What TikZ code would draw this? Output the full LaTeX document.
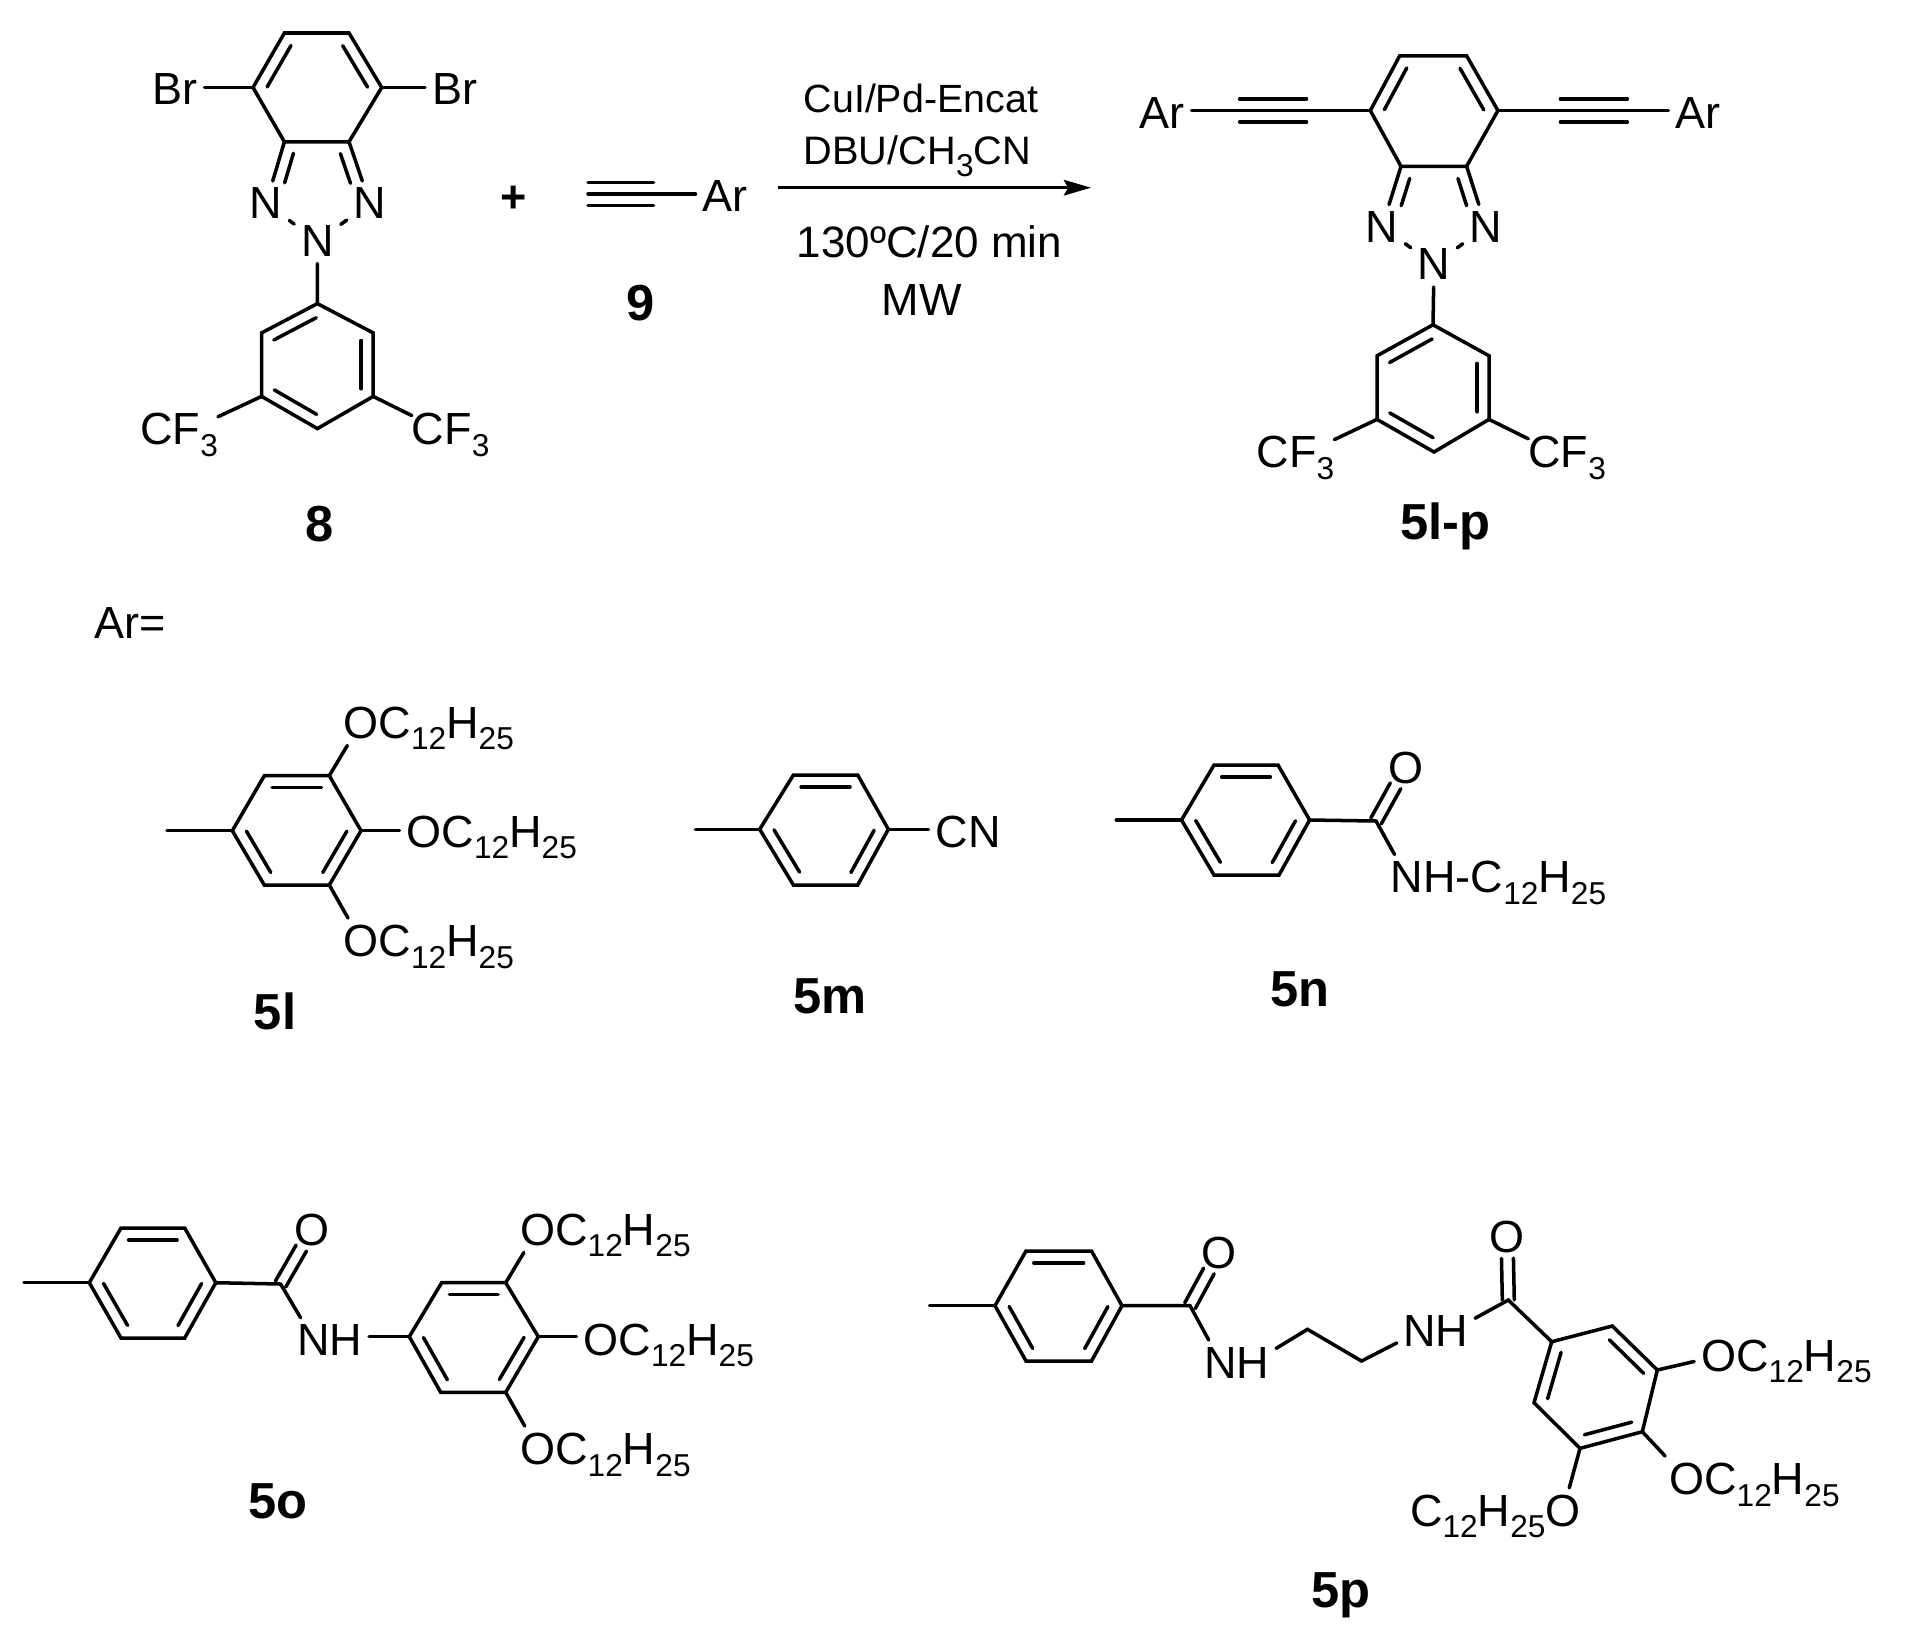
\documentclass[tikz,border=0pt]{standalone}
\usepackage{fontspec}
\setmainfont{Liberation Sans}
\usetikzlibrary{arrows.meta,positioning,calc}
\newcommand{\atomfont}{\fontsize{12.8}{14}\selectfont}
\newcommand{\chemsub}[1]{\raisebox{-3.3pt}{\fontsize{9}{10}\selectfont #1}}
\newcommand{\alkyl}{C\chemsub{12}H\chemsub{25}}
\newcommand{\cfthree}{CF\chemsub{3}}
\newcommand{\dbgap}{3.4pt}
% inner line of a double bond, a to b walked clockwise
\newcommand{\dblfr}[4]{\draw [bond] ($(#1)!#3!(#2)!\dbgap!-90:(#2)$) -- ($(#2)!#4!(#1)!\dbgap!90:(#1)$);}
\newcommand{\dbin}[2]{\dblfr{#1}{#2}{.12}{.12}}
% C=O, two lines round the axis
\newcommand{\dsym}[2]{
  \draw [bond] ($(#1)!1.7pt!90:(#2)$)  -- ($(#1)!.66!(#2)!1.7pt!90:(#2)$);
  \draw [bond] ($(#1)!1.7pt!-90:(#2)$) -- ($(#1)!.66!(#2)!1.7pt!-90:(#2)$);}
% triple bond without its axis
\newcommand{\tside}[2]{
  \draw [bond] ($(#1)!3.3pt!90:(#2)$)  -- ($(#2)!3.3pt!-90:(#1)$);
  \draw [bond] ($(#1)!3.3pt!-90:(#2)$) -- ($(#2)!3.3pt!90:(#1)$);}
\tikzset{
bond/.style = {line width=1pt, line cap=round},
tmp/.style = {coordinate},
atom/.style = {font=\atomfont, inner sep=2pt, outer sep=0pt},
atomtail/.style = {font=\atomfont, inner sep=0pt, outer sep=0pt, base right=-2pt of #1},
atomhead/.style = {font=\atomfont, inner sep=0pt, outer sep=0pt, base left=-2pt of #1},
atomnext/.style = {atom, base right=-4.2pt of #1},
cfgroup/.style = {font=\atomfont, inner sep=0pt, outer sep=0pt, anchor=base west},
cpd/.style = {font=\fontsize{14.4}{16}\selectfont\bfseries, inner sep=0pt, anchor=base},
txt/.style = {inner sep=0pt, anchor=base west}
}
\begin{document}
\begin{tikzpicture}[x=0.01cm, y=-0.01cm, >={Stealth[length=7.7pt,width=4.4pt,inset=1.2pt]}]
  \useasboundingbox (0,0) rectangle (1916,1633);

  % compound 8
  \foreach \n/\x/\y in {a/284.4/33, b/349/33, c/381.7/87.5, d/349/141.8, e/284.4/141.8, f/253/87.5,
      g/317.4/303.6, h/373.2/332.9, i/373.2/396.4, j/317.4/428.6, k/261.6/396.4, l/261.6/332.9}
    \node [tmp] (m8\n) at (\x,\y) {};
  \node [atom]                      (brl)   at (175,89.3)    {Br};
  \node [atom]                      (brr)   at (454.5,89.3)  {Br};
  \node [atom]                      (n8l)   at (266,203.5)   {N};
  \node [atom]                      (n8r)   at (370,203.5)   {N};
  \node [atom]                      (n8c)   at (317.5,241)   {N};
  \node [cfgroup]                   (cf8l)  at (140.4,444.6) {\cfthree};
  \node [cfgroup]                   (cf8r)  at (411.8,444.6) {\cfthree};
  \node [cpd]                       (lab8)  at (319.5,541)   {8};

  \draw [bond] (m8a) -- (m8b) -- (m8c) -- (m8d) -- (m8e) -- (m8f) -- cycle;
  \dbin{m8f}{m8a} \dbin{m8b}{m8c}
  \draw [bond] (m8f) -- (m8f -| brl.east);
  \draw [bond] (m8c) -- (m8c -| brr.west);
  \draw [bond] (m8d) -- (n8r);
  \draw [bond] (m8e) -- (n8l);
  \dblfr{m8d}{n8r}{.13}{.39} \dblfr{n8l}{m8e}{.39}{.13}
  \draw [bond] (n8l) -- (n8c);
  \draw [bond] (n8r) -- (n8c);
  \draw [bond] (n8c) -- (m8g);
  \draw [bond] (m8g) -- (m8h) -- (m8i) -- (m8j) -- (m8k) -- (m8l) -- cycle;
  \dbin{m8l}{m8g} \dbin{m8h}{m8i} \dbin{m8j}{m8k}
  \draw [bond] (m8k) -- (cf8l);
  \draw [bond] (m8i) -- (cf8r);

  % plus and alkyne 9
  \node [atom, font=\atomfont\bfseries] (plus) at (514,199)  {+};
  \node [tmp]                       (t9a)   at (588,194)     {};
  \node [tmp]                       (t9b)   at (653.6,194)   {};
  \node [atom]                      (ar9)   at (725,196)     {Ar};
  \node [cpd]                       (lab9)  at (641,320)     {9};
  \draw [bond] (t9a) -- (t9b) -- (t9b -| ar9.west);
  \tside{t9a}{t9b}

  % conditions
  \node [tmp]                       (arwa)  at (778,187.7)   {};
  \node [tmp]                       (arwb)  at (1091,187.7)  {};
  \draw [->, line width=.9pt] (arwa) -- (arwb);
  \node [txt, font=\fontsize{11.2}{13}\selectfont]  (cond1) at (803,112.3) {CuI/Pd-Encat};
  \node [txt, font=\fontsize{11.3}{13}\selectfont]  (cond2) at (803,164.6) {DBU/CH\chemsub{3}CN};
  \node [txt, font=\fontsize{12.5}{14}\selectfont]  (cond3) at (796,257)   {130ºC/20 min};
  \node [txt, font=\atomfont]                       (cond4) at (881,315.5) {MW};

  % product 5l-p
  \foreach \n/\x/\y in {a/1399.7/55.8, b/1466.6/55.8, c/1497.9/110.6, d/1466.6/166.3, e/1401/166.3, f/1370.3/110.6,
      g/1433/324.8, h/1489/355.8, i/1489/419.4, j/1434/452, k/1377/419.4, l/1377/355.8,
      s/1239.6/110.6, t/1306.5/110.6, u/1560.4/110.6, v/1627.3/110.6}
    \node [tmp] (mp\n) at (\x,\y) {};
  \node [atom]                      (arl)   at (1162,113.5)  {Ar};
  \node [atom]                      (arr)   at (1698,113.5)  {Ar};
  \node [atom]                      (npl)   at (1382,227)    {N};
  \node [atom]                      (npr)   at (1486,227)    {N};
  \node [atom]                      (npc)   at (1434,264.5)  {N};
  \node [cfgroup]                   (cfpl)  at (1256.7,467.7) {\cfthree};
  \node [cfgroup]                   (cfpr)  at (1528.3,467.7) {\cfthree};
  \node [cpd]                       (labp)  at (1445,539)    {5l-p};

  \draw [bond] (mpa) -- (mpb) -- (mpc) -- (mpd) -- (mpe) -- (mpf) -- cycle;
  \dbin{mpf}{mpa} \dbin{mpb}{mpc}
  \draw [bond] (mpf) -- (mpf -| arl.east);
  \draw [bond] (mpc) -- (mpc -| arr.west);
  \tside{mps}{mpt} \tside{mpu}{mpv}
  \draw [bond] (mpd) -- (npr);
  \draw [bond] (mpe) -- (npl);
  \dblfr{mpd}{npr}{.14}{.41} \dblfr{npl}{mpe}{.41}{.14}
  \draw [bond] (npl) -- (npc);
  \draw [bond] (npr) -- (npc);
  \draw [bond] (npc) -- (mpg);
  \draw [bond] (mpg) -- (mph) -- (mpi) -- (mpj) -- (mpk) -- (mpl) -- cycle;
  \dbin{mpl}{mpg} \dbin{mph}{mpi} \dbin{mpj}{mpk}
  \draw [bond] (mpk) -- (cfpl);
  \draw [bond] (mpi) -- (cfpr);

  \node [txt, font=\atomfont]       (arlab) at (94,638)      {Ar=};

  % 5l
  \foreach \n/\x/\y in {a/264.3/775.7, b/329.3/775.7, c/361/830.7, d/329.3/885, e/264.3/885, f/232.3/830.7, m/167/830.7}
    \node [tmp] (l5\n) at (\x,\y) {};
  \node [atom]                      (ol1)   at (361,722.5)   {O};
  \node [atomtail=ol1]              (rl1)                    {\alkyl};
  \node [atom]                      (ol2)   at (424,831.7)   {O};
  \node [atomtail=ol2]              (rl2)                    {\alkyl};
  \node [atom]                      (ol3)   at (361,941)     {O};
  \node [atomtail=ol3]              (rl3)                    {\alkyl};
  \node [cpd]                       (labl)  at (275,1029.3)  {5l};

  \draw [bond] (l5a) -- (l5b) -- (l5c) -- (l5d) -- (l5e) -- (l5f) -- cycle;
  \dbin{l5a}{l5b} \dbin{l5c}{l5d} \dbin{l5e}{l5f}
  \draw [bond] (l5m) -- (l5f);
  \draw [bond] (l5b) -- (ol1);
  \draw [bond] (l5c) -- (l5c -| ol2.west);
  \draw [bond] (l5d) -- (ol3);

  % 5m
  \foreach \n/\x/\y in {a/793.4/775, b/857.7/775, c/888.3/829.3, d/857.7/885, e/793.4/885, f/759.7/829.3, m/695.4/829.3}
    \node [tmp] (m5\n) at (\x,\y) {};
  \node [atom]                      (cnm)   at (968,832)     {CN};
  \node [cpd]                       (labm)  at (830,1013)    {5m};

  \draw [bond] (m5a) -- (m5b) -- (m5c) -- (m5d) -- (m5e) -- (m5f) -- cycle;
  \dbin{m5a}{m5b} \dbin{m5c}{m5d} \dbin{m5e}{m5f}
  \draw [bond] (m5m) -- (m5f);
  \draw [bond] (m5c) -- (m5c -| cnm.west);

  % 5n
  \foreach \n/\x/\y in {a/1214/765, b/1278/765, c/1309.6/820, d/1279/875, e/1214/875, f/1181.5/820, m/1116.3/820, k/1376/821}
    \node [tmp] (n5\n) at (\x,\y) {};
  \node [atom]                      (on)    at (1405.6,767.7) {O};
  \node [atom]                      (nn)    at (1407,877)    {N};
  \node [atomtail=nn]               (rn)                     {H-\alkyl};
  \node [cpd]                       (labn)  at (1300,1006.7) {5n};

  \draw [bond] (n5a) -- (n5b) -- (n5c) -- (n5d) -- (n5e) -- (n5f) -- cycle;
  \dbin{n5a}{n5b} \dbin{n5c}{n5d} \dbin{n5e}{n5f}
  \draw [bond] (n5m) -- (n5f);
  \draw [bond] (n5c) -- (n5k) -- (nn);
  \dsym{n5k}{on}

  % 5o
  \foreach \n/\x/\y in {a/121/1228, b/184.7/1228, c/215.8/1282.7, d/184.7/1338, e/121/1338, f/89.3/1282.7, m/24/1282.7, k/280.6/1284,
      p/441.7/1282.7, q/505.7/1282.7, r/538.3/1336.7, s/505.7/1392.3, t/440.7/1392.3, u/409.3/1336.7}
    \node [tmp] (o5\n) at (\x,\y) {};
  \node [atom]                      (oo)    at (312,1229.5)  {O};
  \node [atom]                      (no)    at (314,1340.3)  {N};
  \node [atomnext=no]               (ho)                     {H};
  \node [atom]                      (oo1)   at (537.7,1229.5) {O};
  \node [atomtail=oo1]              (ro1)                    {\alkyl};
  \node [atom]                      (oo2)   at (601,1339.7)  {O};
  \node [atomtail=oo2]              (ro2)                    {\alkyl};
  \node [atom]                      (oo3)   at (537.7,1449)  {O};
  \node [atomtail=oo3]              (ro3)                    {\alkyl};
  \node [cpd]                       (labo)  at (278,1518)    {5o};

  \draw [bond] (o5a) -- (o5b) -- (o5c) -- (o5d) -- (o5e) -- (o5f) -- cycle;
  \dbin{o5a}{o5b} \dbin{o5c}{o5d} \dbin{o5e}{o5f}
  \draw [bond] (o5m) -- (o5f);
  \draw [bond] (o5c) -- (o5k) -- (no);
  \dsym{o5k}{oo}
  \draw [bond] (o5u -| ho.east) -- (o5u);
  \draw [bond] (o5p) -- (o5q) -- (o5r) -- (o5s) -- (o5t) -- (o5u) -- cycle;
  \dbin{o5p}{o5q} \dbin{o5r}{o5s} \dbin{o5t}{o5u}
  \draw [bond] (o5q) -- (oo1);
  \draw [bond] (o5r) -- (o5r -| oo2.west);
  \draw [bond] (o5s) -- (oo3);

  % 5p
  \foreach \n/\x/\y in {a/1026/1251, b/1091.5/1251, c/1122/1305.7, d/1091.5/1361, e/1026/1361, f/995/1305.7, m/929.5/1305.7, k/1190/1305.7,
      g/1307.5/1329.3, h/1361.5/1361, j/1508.3/1300,
      p/1551.7/1341.7, q/1612.3/1326, r/1657.3/1370, s/1642.3/1431.7, t/1580/1448.3, u/1534/1402.7}
    \node [tmp] (p5\n) at (\x,\y) {};
  \node [atom]                      (op)    at (1218.6,1253) {O};
  \node [atom]                      (np)    at (1221,1362.5) {N};
  \node [atomnext=np]               (hp)                     {H};
  \node [atom]                      (npb)   at (1420,1331)   {N};
  \node [atomnext=npb]              (hpb)                    {H};
  \node [atom]                      (opb)   at (1507,1236.7) {O};
  \node [atom]                      (op1)   at (1718.7,1355.8) {O};
  \node [atomtail=op1]              (rp1)                    {\alkyl};
  \node [atom]                      (op2)   at (1686.7,1479) {O};
  \node [atomtail=op2]              (rp2)                    {\alkyl};
  \node [atom]                      (op3)   at (1563,1510.8) {O};
  \node [atomhead=op3]              (rp3)                    {\alkyl};
  \node [cpd]                       (labq)  at (1341,1607)   {5p};

  \draw [bond] (p5a) -- (p5b) -- (p5c) -- (p5d) -- (p5e) -- (p5f) -- cycle;
  \dbin{p5a}{p5b} \dbin{p5c}{p5d} \dbin{p5e}{p5f}
  \draw [bond] (p5m) -- (p5f);
  \draw [bond] (p5c) -- (p5k) -- (np);
  \dsym{p5k}{op}
  \draw [bond] (hp) -- (p5g) -- (p5h) -- (npb);
  \draw [bond] (hpb) -- (p5j) -- (p5p);
  \dsym{p5j}{opb}
  \draw [bond] (p5p) -- (p5q) -- (p5r) -- (p5s) -- (p5t) -- (p5u) -- cycle;
  \dbin{p5u}{p5p} \dbin{p5q}{p5r} \dbin{p5s}{p5t}
  \draw [bond] (p5r) -- (op1);
  \draw [bond] (p5s) -- (op2);
  \draw [bond] (p5t) -- (op3);
\end{tikzpicture}
\end{document}
